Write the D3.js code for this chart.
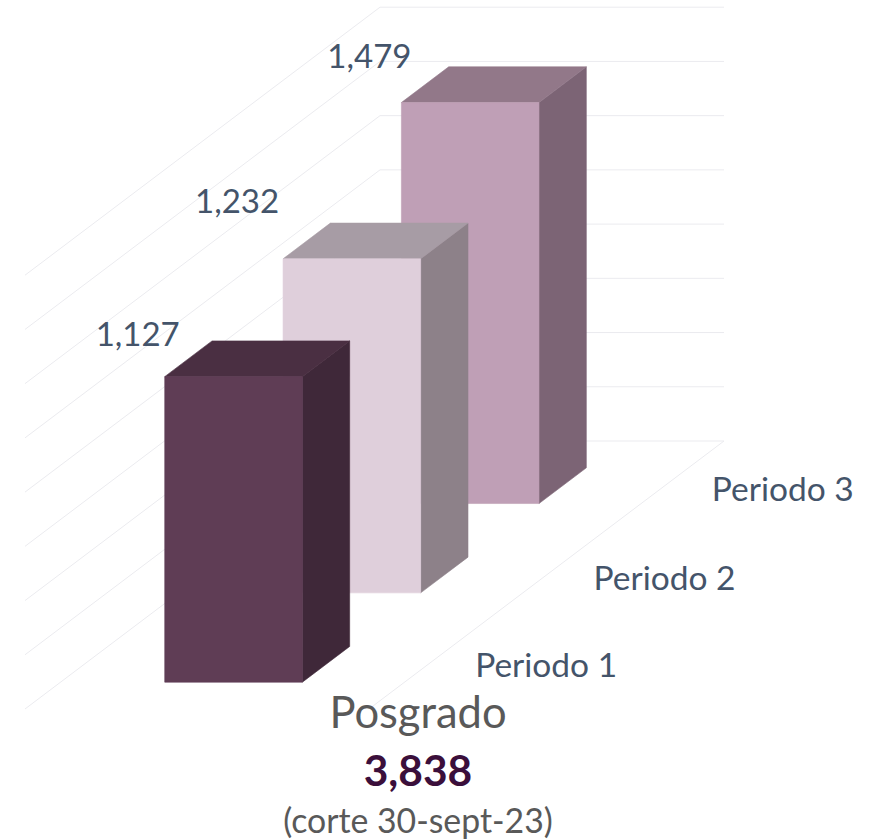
<!DOCTYPE html>
<html>
<head>
<meta charset="utf-8">
<script src="https://cdn.jsdelivr.net/npm/d3@7"></script>
<style>
html,body{margin:0;padding:0;background:#fff}
svg{display:block}
text{font-family:Lato,"Open Sans",sans-serif}
</style>
</head>
<body>
<svg id="c" width="876" height="840"></svg>
<script>
const categories = ["Periodo 1", "Periodo 2", "Periodo 3"];
const values = [1127, 1232, 1479];
const frontColors = ["#5F3D55", "#DFCFDB", "#BF9FB6"];
const topColors = ["#4A2F42", "#A79CA5", "#927889"];
const sideColors = ["#3F2839", "#8D8189", "#7C6475"];
const gridTicks = [0, 200, 400, 600, 800, 1000, 1200, 1400, 1600];
const titleText = "Posgrado";
const totalText = "3,838";
const noteText = "(corte 30-sept-23)";

const svg = d3.select("#c");
const fmt = d3.format(",");

const across = d3.scaleLinear().domain([0, 1]).range([25, 369]);
const depthX = d3.scaleLinear().domain([0, 3]).range([0, 355]);
const depthY = d3.scaleLinear().domain([0, 3]).range([709, 441]);
const valueY = d3.scaleLinear().domain([0, 1600]).range([0, 433.8]);

// project: a = across 0..1, d = depth 0..3, v = value
const P = (a, d, v) => [across(a) + depthX(d), depthY(d) - valueY(v)];
const path = pts => "M" + pts.map(p => p.join(",")).join("L") + "Z";

const grid = svg.append("g").attr("fill", "none").attr("stroke", "#EBEBEF").attr("stroke-width", 1);
gridTicks.forEach(t => {
  grid.append("polyline").attr("points", [P(0, 0, t), P(0, 3, t), P(1, 3, t)].map(p => p.join(",")).join(" "));
});
grid.append("line")
  .attr("x1", P(1, 3, 0)[0]).attr("y1", P(1, 3, 0)[1])
  .attr("x2", P(1, 0, 0)[0]).attr("y2", P(1, 0, 0)[1]);

const a0 = 0.303, a1 = 0.703;
const barOffsets = [0.3, 0.7];

const bars = svg.selectAll("g.bar")
  .data(categories.map((c, i) => ({ c, i, v: values[i] })).reverse())
  .join("g").attr("class", "bar");

const face = (g, pts, col) => g.append("path")
  .attr("d", path(pts)).attr("fill", col).attr("stroke", col).attr("stroke-width", 0.6);

bars.each(function (b) {
  const g = d3.select(this);
  const d0 = b.i + barOffsets[0], d1 = b.i + barOffsets[1];
  face(g, [P(a1, d0, 0), P(a1, d1, 0), P(a1, d1, b.v), P(a1, d0, b.v)], sideColors[b.i]);
  face(g, [P(a0, d0, b.v), P(a1, d0, b.v), P(a1, d1, b.v), P(a0, d1, b.v)], topColors[b.i]);
  face(g, [P(a0, d0, 0), P(a1, d0, 0), P(a1, d0, b.v), P(a0, d0, b.v)], frontColors[b.i]);
});

// value labels sit by hand-placed nudges above each bar's front-left corner
const labelNudgeX = [-27, -46, -32];
const labelNudgeY = [-31, -45.5, -34.5];
svg.append("g").selectAll("text")
  .data(values)
  .join("text")
  .attr("x", (v, i) => P(a0, i + barOffsets[0], v)[0] + labelNudgeX[i])
  .attr("y", (v, i) => P(a0, i + barOffsets[0], v)[1] + labelNudgeY[i])
  .attr("text-anchor", "middle")
  .attr("font-size", 33)
  .attr("fill", "#44546A")
  .text(d => fmt(d));

// category labels
const catNudgeY = [13, 14.5, 15];
svg.append("g").selectAll("text")
  .data(categories)
  .join("text")
  .attr("x", (c, i) => P(1, i + 0.5, 0)[0] + 118)
  .attr("y", (c, i) => P(1, i + 0.5, 0)[1] + catNudgeY[i])
  .attr("text-anchor", "middle")
  .attr("font-size", 33.5)
  .attr("fill", "#44546A")
  .text(d => d);

svg.append("text").attr("x", 418).attr("y", 728).attr("text-anchor", "middle")
  .attr("font-size", 43.5).attr("fill", "#595959").text(titleText);
svg.append("text").attr("x", 418).attr("y", 786).attr("text-anchor", "middle")
  .attr("font-size", 42.5).attr("font-weight", 700).attr("fill", "#3B0F3B").text(totalText);
svg.append("text").attr("x", 418).attr("y", 833).attr("text-anchor", "middle")
  .attr("font-size", 33.8).attr("fill", "#595959").text(noteText);
</script>
</body>
</html>
